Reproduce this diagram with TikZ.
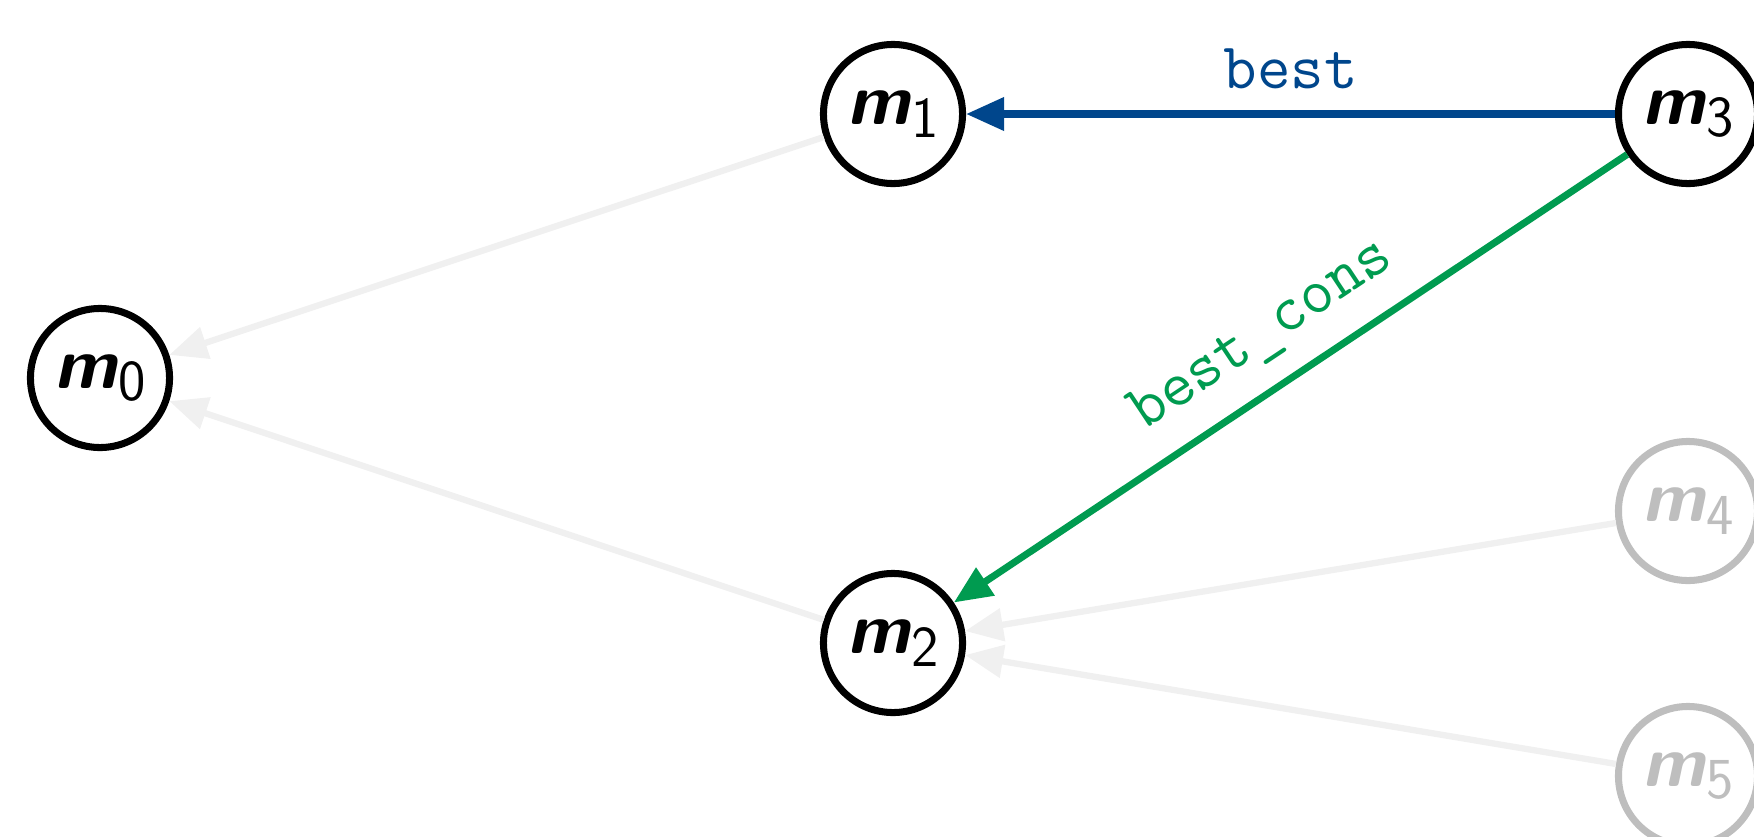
\documentclass[tikz,border=0pt]{standalone}
\usepackage{fontspec}
\usetikzlibrary{arrows.meta}
\definecolor{bestblue}{RGB}{0,70,140}
\definecolor{consgreen}{RGB}{0,155,80}
\definecolor{fadeedge}{RGB}{240,240,240}
\definecolor{fadenode}{RGB}{190,190,190}
\newcommand{\mlab}[1]{{\bfseries\itshape m}\kern0.5pt\raisebox{-3.5pt}{\fontsize{16.5}{18}\selectfont\mdseries\upshape #1}}
\tikzset{
  mnode/.style={circle, draw, fill=white, line width=2pt, minimum size=1.39cm,
    inner sep=0pt, font=\fontsize{20.5}{24}\selectfont\sffamily},
  fadednode/.style={mnode, draw=fadenode, text=fadenode},
  tip/.style={-{Triangle[length=0.38cm,width=0.32cm]}},
  fadededge/.style={tip, draw=fadeedge, line width=1.8pt},
  edgelabel/.style={font=\fontsize{18.5}{22}\selectfont\ttfamily, inner sep=6pt}
}
\begin{document}
\begin{tikzpicture}[x=0.01cm,y=-0.01cm]
  \useasboundingbox (0,0) rectangle (1754,836);
  \clip (0,0) rectangle (1754,836);

  % model nodes
  \node[mnode] (m0) at (100,378) {\mlab{0}};
  \node[mnode] (m1) at (893,114) {\mlab{1}};
  \node[mnode] (m2) at (893,643) {\mlab{2}};
  \node[mnode] (m3) at (1688,114) {\mlab{3}};
  \node[fadednode] (m4) at (1688,511) {\mlab{4}};
  \node[fadednode] (m5) at (1688,776) {\mlab{5}};

  % inactive links
  \draw[fadededge] (m1) -- (m0);
  \draw[fadededge] (m2) -- (m0);
  \draw[fadededge] (m4) -- (m2);
  \draw[fadededge] (m5) -- (m2);

  % selected links
  \draw[tip, bestblue, line width=2pt] (m3) -- node[edgelabel, above, text=bestblue] (lbest) {best} (m1);
  \draw[tip, consgreen, line width=2pt] (m3) -- node[edgelabel, above, sloped, text=consgreen] (lcons) {best\_cons} (m2);
\end{tikzpicture}
\end{document}
